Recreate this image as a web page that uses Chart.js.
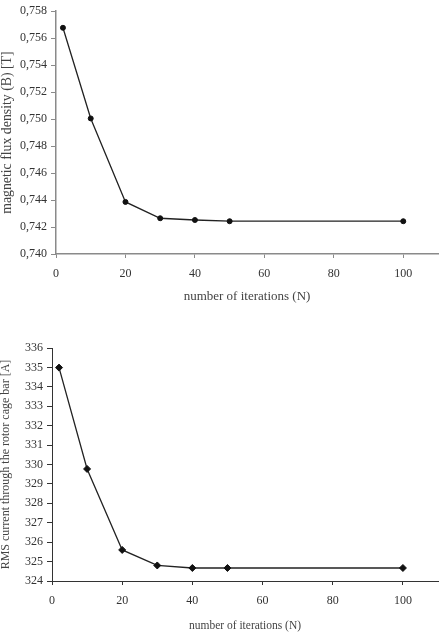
<!DOCTYPE html>
<html>
<head>
<meta charset="utf-8">
<script src="https://cdn.jsdelivr.net/npm/chart.js@4.4.1/dist/chart.umd.min.js"></script>
<style>
  html, body { margin: 0; padding: 0; background: #fff; }
  #wrap { position: relative; width: 443px; height: 639px; overflow: hidden; }
  .box { position: absolute; left: 0; width: 443px; }
  #b1 { top: 0; height: 320px; }
  #b2 { top: 320px; height: 319px; }
</style>
</head>
<body>
<div id="wrap">
  <div class="box" id="b1"><canvas id="c1"></canvas></div>
  <div class="box" id="b2"><canvas id="c2"></canvas></div>
</div>
<script>
// ---- data ----
const iterations = [2, 10, 20, 30, 40, 50, 100];
const fluxDensity = [0.75677, 0.75005, 0.74386, 0.74265, 0.74252, 0.74243, 0.74243];
const rmsCurrent = [334.99, 329.77, 325.60, 324.80, 324.67, 324.67, 324.67];
const xTickValues = [0, 20, 40, 60, 80, 100];
const fluxTickValues = [0.740, 0.742, 0.744, 0.746, 0.748, 0.750, 0.752, 0.754, 0.756, 0.758];
const currentTickValues = [324, 325, 326, 327, 328, 329, 330, 331, 332, 333, 334, 335, 336];
const xTitle = 'number of iterations (N)';
const fluxTitle = 'magnetic flux density (B) [T]';
const currentTitle = 'RMS current through the rotor cage bar [A]';

const FONT = "'Liberation Serif', 'Times New Roman', serif";

function makeChart(id, cfg) {
  const pts = iterations.map((x, i) => ({ x: x, y: cfg.values[i] }));
  return new Chart(document.getElementById(id), {
    type: 'line',
    data: {
      datasets: [{
        data: pts,
        borderColor: '#222',
        borderWidth: 1.3,
        tension: 0,
        pointStyle: cfg.pointStyle,
        pointRadius: cfg.pointRadius,
        pointBackgroundColor: '#111',
        pointBorderColor: '#111',
        pointBorderWidth: 1
      }]
    },
    options: {
      responsive: true,
      maintainAspectRatio: false,
      animation: false,
      events: [],
      layout: { padding: { top: cfg.padTop, right: cfg.padRight, left: 0, bottom: 0 } },
      plugins: { legend: { display: false }, tooltip: { enabled: false } },
      scales: {
        x: {
          type: 'linear',
          min: 0,
          max: 110,
          afterBuildTicks: s => { s.ticks = xTickValues.map(v => ({ value: v })); },
          afterFit: s => { s.height = cfg.xHeight; },
          ticks: {
            color: '#333',
            font: { family: FONT, size: 12 },
            padding: 9,
            maxRotation: 0,
            autoSkip: false
          },
          grid: { drawOnChartArea: false, drawTicks: true, tickLength: 4, tickColor: cfg.axisColor },
          border: { color: cfg.axisColor, width: cfg.axisWidth },
          title: {
            display: true,
            text: xTitle,
            color: '#444',
            font: { family: FONT, size: cfg.xTitleSize },
            padding: { top: 0, bottom: cfg.xTitlePadBottom }
          }
        },
        y: {
          type: 'linear',
          min: cfg.yMin,
          max: cfg.yMax,
          afterBuildTicks: s => { s.ticks = cfg.yTicks.map(v => ({ value: v })); },
          afterFit: s => { s.width = cfg.yWidth; },
          ticks: {
            color: '#333',
            font: { family: FONT, size: 12 },
            padding: 4,
            autoSkip: false,
            callback: cfg.fmt
          },
          grid: { drawOnChartArea: false, drawTicks: true, tickLength: 5, tickColor: cfg.axisColor },
          border: { color: cfg.axisColor, width: cfg.axisWidth },
          title: {
            display: true,
            text: cfg.yTitle,
            color: '#444',
            font: { family: FONT, size: cfg.yTitleSize, lineHeight: 1 },
            padding: { top: 0, bottom: 0 }
          }
        }
      }
    }
  });
}

makeChart('c1', {
  values: fluxDensity,
  pointStyle: 'circle',
  pointRadius: 2.5,
  padTop: 10,
  padRight: 3,
  xHeight: 66,
  yWidth: 56,
  yMin: 0.740,
  yMax: 0.758,
  yTicks: fluxTickValues,
  fmt: v => v.toFixed(3).replace('.', ','),
  yTitle: fluxTitle,
  yTitleSize: 13.8,
  xTitleSize: 13,
  xTitlePadBottom: 16,
  axisColor: '#8a8a8a',
  axisWidth: 1.5
});

makeChart('c2', {
  values: rmsCurrent,
  pointStyle: 'rectRot',
  pointRadius: 3.5,
  padTop: 28,
  padRight: 1,
  xHeight: 58,
  yWidth: 52,
  yMin: 324,
  yMax: 336,
  yTicks: currentTickValues,
  fmt: v => String(v),
  yTitle: currentTitle,
  yTitleSize: 12,
  xTitleSize: 11.5,
  xTitlePadBottom: 6.5,
  axisColor: '#333',
  axisWidth: 1
});
</script>
</body>
</html>
